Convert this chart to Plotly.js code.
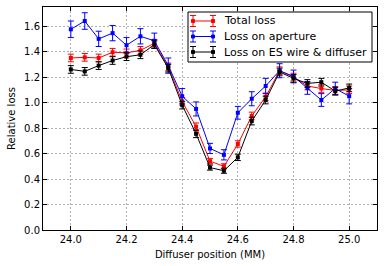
<!DOCTYPE html>
<html><head><meta charset="utf-8">
<script src="https://cdn.plot.ly/plotly-3.0.1.min.js"></script>
<style>html,body{margin:0;padding:0;background:#fff}#c{width:384px;height:266px}</style>
</head><body><div id="c"></div>
<script>
const positions = [24.0,24.05,24.1,24.15,24.2,24.25,24.3,24.35,24.4,24.45,24.5,24.55,24.6,24.65,24.7,24.75,24.8,24.85,24.9,24.95,25.0];
const totalLoss = [1.35,1.355,1.35,1.395,1.39,1.41,1.465,1.28,1.01,0.81,0.54,0.50,0.675,0.895,1.045,1.25,1.20,1.13,1.11,1.095,1.10];
const totalErr  = [0.03,0.03,0.03,0.03,0.03,0.03,0.03,0.03,0.03,0.03,0.02,0.02,0.025,0.03,0.03,0.03,0.03,0.03,0.03,0.03,0.03];
const apertureLoss = [1.575,1.64,1.50,1.545,1.45,1.52,1.485,1.29,1.05,0.95,0.64,0.59,0.92,1.03,1.13,1.25,1.205,1.115,1.02,1.11,1.05];
const apertureErr  = [0.065,0.065,0.06,0.06,0.06,0.06,0.06,0.06,0.06,0.055,0.04,0.04,0.05,0.055,0.06,0.055,0.05,0.05,0.05,0.05,0.06];
const esLoss = [1.26,1.245,1.29,1.33,1.36,1.375,1.455,1.27,0.98,0.755,0.49,0.465,0.57,0.855,1.02,1.24,1.19,1.15,1.16,1.09,1.115];
const esErr  = [0.03,0.03,0.03,0.03,0.03,0.03,0.03,0.03,0.03,0.03,0.02,0.02,0.025,0.03,0.03,0.03,0.03,0.03,0.03,0.03,0.03];
const seriesNames = ['Total loss','Loss on aperture','Loss on ES wire & diffuser'];
const seriesColors = ['#ff0000','#0000ff','#000000'];

function tr(y, e, name, color){
  return {x: positions, y: y, name: name, type:'scatter', mode:'lines+markers', showlegend:false,
    line:{color:color, width:1}, marker:{color:color, size:4, symbol:'square'},
    error_y:{type:'data', array:e, visible:true, color:color, thickness:1, width:3}};
}
const data = [
  tr(totalLoss, totalErr, seriesNames[0], seriesColors[0]),
  tr(apertureLoss, apertureErr, seriesNames[1], seriesColors[1]),
  tr(esLoss, esErr, seriesNames[2], seriesColors[2])
];
const font = {family:'DejaVu Sans', size:10, color:'#000'};
const axBase = {showline:true, linecolor:'#000', linewidth:1, mirror:'ticks', ticks:'inside', ticklen:4, tickcolor:'#000',
  showgrid:true, gridcolor:'#b0b0b0', griddash:'2px,2px', gridwidth:1, zeroline:false, tickfont:font};

// manual matplotlib-style legend (pixel helpers → paper coords)
const L = 43, R = 377, T = 7, B = 230;
const px = v => (v - L) / (R - L);
const py = v => (B - v) / (B - T);
const shapes = [{type:'rect', xref:'paper', yref:'paper', x0:px(188), x1:px(372), y0:py(62), y1:py(12),
  line:{color:'#000', width:1}, fillcolor:'#fff', layer:'above'}];
const annotations = [];
const rowsY = [21, 36.5, 52];
seriesNames.forEach((n, i) => {
  const c = seriesColors[i], yy = rowsY[i];
  shapes.push({type:'line', xref:'paper', yref:'paper', x0:px(193), x1:px(213), y0:py(yy), y1:py(yy), line:{color:c, width:1}, layer:'above'});
  [193, 213].forEach(xx => {
    shapes.push({type:'line', xref:'paper', yref:'paper', x0:px(xx), x1:px(xx), y0:py(yy-5.5), y1:py(yy+5.5), line:{color:c, width:1}, layer:'above'});
    shapes.push({type:'line', xref:'paper', yref:'paper', x0:px(xx-3), x1:px(xx+3), y0:py(yy-5.5), y1:py(yy-5.5), line:{color:c, width:1}, layer:'above'});
    shapes.push({type:'line', xref:'paper', yref:'paper', x0:px(xx-3), x1:px(xx+3), y0:py(yy+5.5), y1:py(yy+5.5), line:{color:c, width:1}, layer:'above'});
    shapes.push({type:'rect', xref:'paper', yref:'paper', x0:px(xx-1.5), x1:px(xx+1.5), y0:py(yy+1.5), y1:py(yy-1.5), line:{color:c, width:1}, fillcolor:c, layer:'above'});
  });
  annotations.push({xref:'paper', yref:'paper', x:px(222), y:py(yy), xanchor:'left', yanchor:'middle', showarrow:false,
    text:n, font:{family:'DejaVu Sans', size:11, color:'#000'}});
});

const layout = {
  width:384, height:266, margin:{l:43, r:7, t:7, b:36},
  paper_bgcolor:'#fff', plot_bgcolor:'#fff', font:font, showlegend:false,
  xaxis: Object.assign({}, axBase, {range:[23.9,25.1], tickvals:[24.0,24.2,24.4,24.6,24.8,25.0], tickformat:'.1f',
    title:{text:'Diffuser position (MM)', font:font, standoff:6}}),
  yaxis: Object.assign({}, axBase, {range:[0,1.75], tickvals:[0,0.2,0.4,0.6,0.8,1.0,1.2,1.4,1.6], tickformat:'.1f',
    title:{text:'Relative loss', font:font, standoff:6}}),
  shapes: shapes, annotations: annotations
};
Plotly.newPlot('c', data, layout, {staticPlot:true});
</script></body></html>
